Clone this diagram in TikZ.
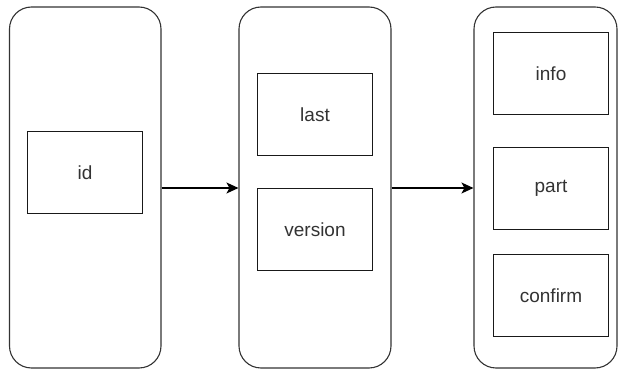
\documentclass[tikz,border=0pt]{standalone}
\usepackage{fontspec}
\setmainfont{Liberation Sans}
\usetikzlibrary{arrows.meta}
\definecolor{txtgray}{HTML}{333333}
\definecolor{linegray}{HTML}{333333}
\tikzset{
  lane/.style={draw=linegray, line width=1.1pt, rounded corners=22pt, minimum width=#1, minimum height=361pt, inner sep=0pt},
  item/.style={draw=black!90, line width=1.1pt, minimum width=115pt, minimum height=82pt, inner sep=0pt,
    font=\fontsize{19}{22}\selectfont, text=txtgray},
  flow/.style={draw=black, line width=1.1pt, -{Stealth[length=12pt,width=11pt,inset=3pt]}}
}
\begin{document}
\begin{tikzpicture}[x=1pt,y=-1pt]
\useasboundingbox (0,0) rectangle (619,371);
\node[lane=151.5pt] (L) at (85.25,187.5) {};
\node[lane=152pt] (M) at (315,187.5) {};
\node[lane=143pt] (R) at (545.5,187.5) {};
\node[item] (id) at (85,172.5) {id};
\node[item] (last) at (315,114.5) {last};
\node[item] (version) at (315,229.5) {version};
\node[item] (info) at (551,73.5) {info};
\node[item] (part) at (551,188.5) {part};
\node[item] (confirm) at (551,295.5) {confirm};
\coordinate (a1) at (L.east |- 0,188);
\coordinate (a2) at (M.west |- 0,188);
\coordinate (b1) at (M.east |- 0,188);
\coordinate (b2) at (R.west |- 0,188);
\draw[flow] (a1) -- (a2);
\draw[flow] (b1) -- (b2);
\end{tikzpicture}
\end{document}
